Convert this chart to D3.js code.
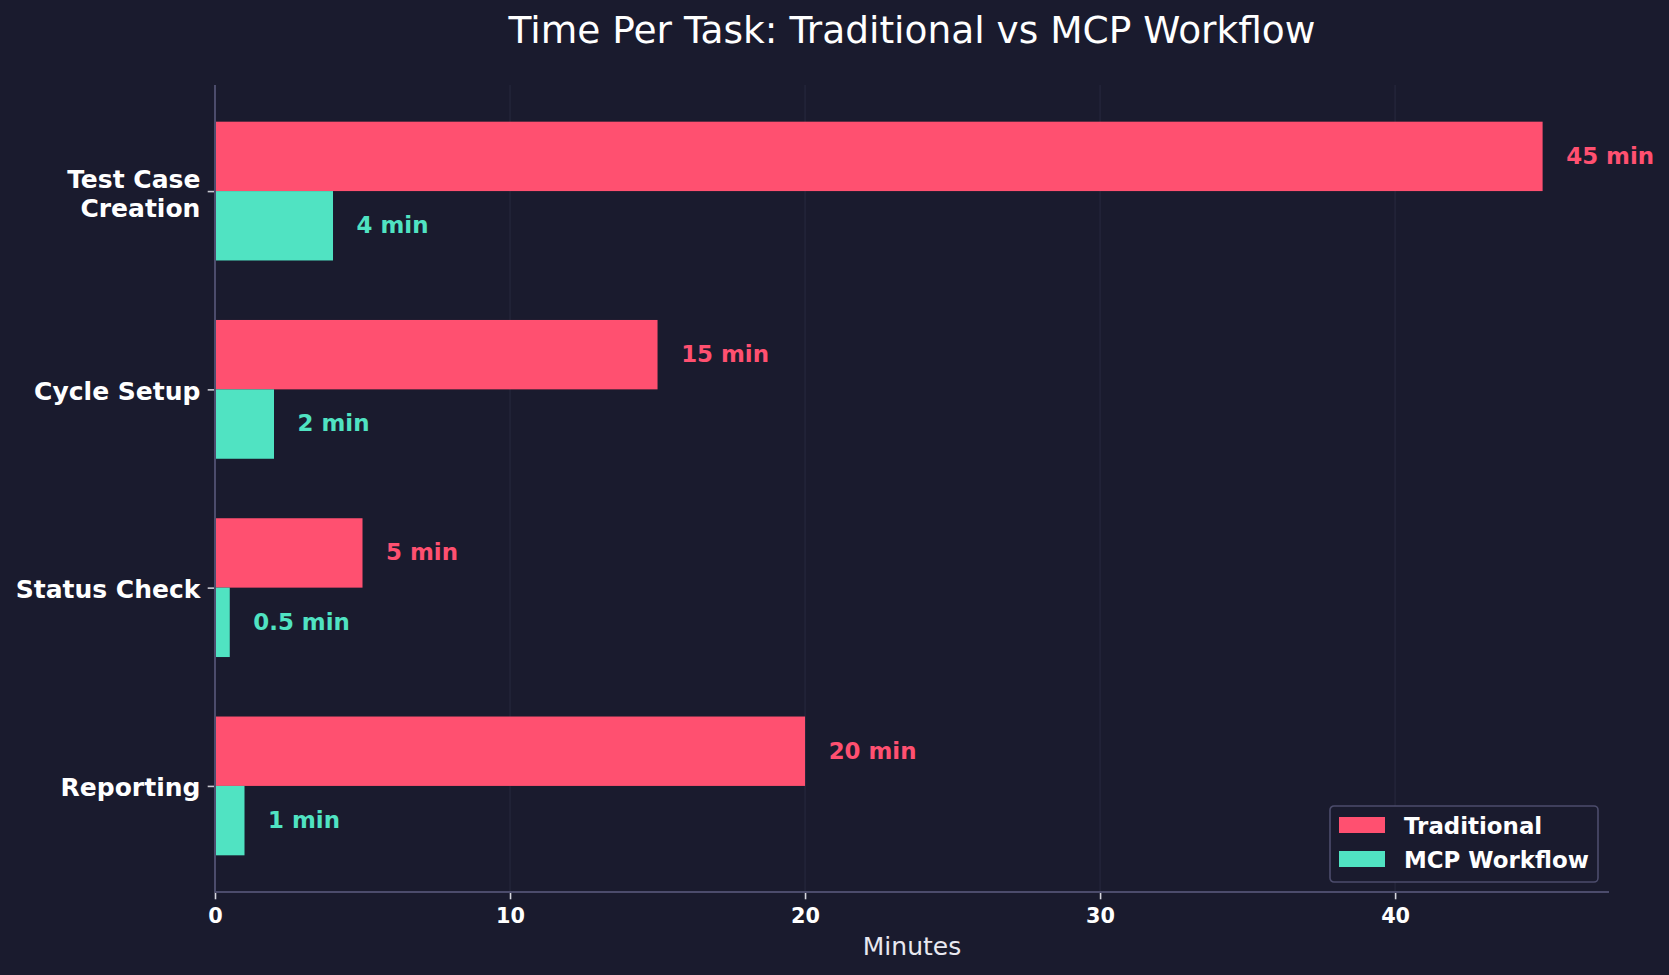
<!DOCTYPE html>
<html>
<head>
<meta charset="utf-8">
<script src="https://cdn.jsdelivr.net/npm/d3@7"></script>
<style>
  html, body { margin: 0; padding: 0; background: #1a1b2e; }
  svg { display: block; font-family: "DejaVu Sans", sans-serif; }
</style>
</head>
<body>
<svg id="chart"></svg>
<script>
// chart values
const tasks = ["Test Case\nCreation", "Cycle Setup", "Status Check", "Reporting"];
const traditional = [45, 15, 5, 20];
const mcpWorkflow = [4, 2, 0.5, 1];
const seriesNames = ["Traditional", "MCP Workflow"];
const xTicks = [0, 10, 20, 30, 40];

const width = 1669;
const height = 975;
const margin = { top: 85, right: 60, bottom: 83, left: 215 };
const barH = 0.35;

const colors = { Traditional: "#ff5070", "MCP Workflow": "#50e3c2" };
const bg = "#1a1b2e";
const spine = "#4c4c6c";

const svg = d3.select("#chart")
    .attr("width", width)
    .attr("height", height)
    .attr("viewBox", [0, 0, width, height]);

svg.append("rect")
    .attr("width", width)
    .attr("height", height)
    .attr("fill", bg);

const xMax = 45 * 1.05;
const x = d3.scaleLinear()
    .domain([0, xMax])
    .range([margin.left, width - margin.right]);

const yPad = (tasks.length - 1 + 2 * barH) * 0.05;
const y = d3.scaleLinear()
    .domain([-barH - yPad, tasks.length - 1 + barH + yPad])
    .range([margin.top, height - margin.bottom]);

// grid
svg.append("g")
    .selectAll("line")
    .data(xTicks)
    .join("line")
        .attr("x1", d => x(d))
        .attr("x2", d => x(d))
        .attr("y1", margin.top)
        .attr("y2", height - margin.bottom)
        .attr("stroke", "#26273c")
        .attr("stroke-width", 1.2);

const rows = tasks.map((t, i) => ({ task: t, i, trad: traditional[i], mcp: mcpWorkflow[i] }));

// bars
const bars = svg.append("g");
bars.selectAll(".trad")
    .data(rows)
    .join("rect")
        .attr("class", "trad")
        .attr("x", x(0))
        .attr("y", d => y(d.i - barH))
        .attr("width", d => x(d.trad) - x(0))
        .attr("height", y(barH) - y(0))
        .attr("fill", colors.Traditional);

bars.selectAll(".mcp")
    .data(rows)
    .join("rect")
        .attr("class", "mcp")
        .attr("x", x(0))
        .attr("y", d => y(d.i))
        .attr("width", d => x(d.mcp) - x(0))
        .attr("height", y(barH) - y(0))
        .attr("fill", colors["MCP Workflow"]);

// value labels
const labels = svg.append("g")
    .attr("font-size", 22.9)
    .attr("font-weight", "bold");

labels.selectAll(".tl")
    .data(rows)
    .join("text")
        .attr("x", d => x(d.trad + 0.8))
        .attr("y", d => y(d.i - barH / 2))
        .attr("dy", "0.32em")
        .attr("fill", colors.Traditional)
        .text(d => `${d.trad} min`);

labels.selectAll(".ml")
    .data(rows)
    .join("text")
        .attr("x", d => x(d.mcp + 0.8))
        .attr("y", d => y(d.i + barH / 2))
        .attr("dy", "0.32em")
        .attr("fill", colors["MCP Workflow"])
        .text(d => `${d.mcp} min`);

// x axis
const xAxis = svg.append("g")
    .attr("transform", `translate(0,${height - margin.bottom})`)
    .call(d3.axisBottom(x).tickValues(xTicks).tickSize(7.3).tickPadding(9).tickFormat(d3.format("d")));

xAxis.select(".domain").remove();
xAxis.selectAll(".tick line").attr("stroke", "#d8d8e0").attr("stroke-width", 1.6);
xAxis.selectAll(".tick text")
    .attr("fill", "#ffffff")
    .attr("font-size", 20.8)
    .attr("font-weight", "bold")
    .attr("font-family", "DejaVu Sans");

// y axis
const yAxis = svg.append("g")
    .attr("transform", `translate(${margin.left},0)`)
    .call(d3.axisLeft(y).tickValues(d3.range(tasks.length)).tickSize(7.3).tickPadding(7.3).tickFormat(() => ""));

yAxis.select(".domain").remove();
yAxis.selectAll(".tick line").attr("stroke", "#c8c8d0").attr("stroke-width", 1.6);
yAxis.selectAll(".tick text").each(function(i) {
    const lines = tasks[i].split("\n");
    const t = d3.select(this)
        .attr("fill", "#ffffff")
        .attr("font-size", 25)
        .attr("font-weight", "bold")
        .attr("font-family", "DejaVu Sans")
        .attr("dy", null)
        .attr("y", 0);
    const lh = 28.4;
    const first = (lines.length > 1 ? 11 : 10) - (lines.length - 1) * lh / 2;
    lines.forEach((ln, k) => {
        t.append("tspan")
            .attr("x", -14.6)
            .attr("y", first + k * lh)
            .text(ln);
    });
});

// spines
svg.append("line")
    .attr("x1", margin.left).attr("x2", margin.left)
    .attr("y1", margin.top).attr("y2", height - margin.bottom)
    .attr("stroke", spine).attr("stroke-width", 2);
svg.append("line")
    .attr("x1", margin.left).attr("x2", width - margin.right)
    .attr("y1", height - margin.bottom).attr("y2", height - margin.bottom)
    .attr("stroke", spine).attr("stroke-width", 2);

// axis label
svg.append("text")
    .attr("x", (margin.left + width - margin.right) / 2)
    .attr("y", 955)
    .attr("text-anchor", "middle")
    .attr("fill", "#e8e8f0")
    .attr("font-size", 25)
    .text("Minutes");

// title
svg.append("text")
    .attr("x", (margin.left + width - margin.right) / 2)
    .attr("y", 43)
    .attr("text-anchor", "middle")
    .attr("fill", "#ffffff")
    .attr("font-size", 37.5)
    .text("Time Per Task: Traditional vs MCP Workflow");

// legend
const legend = svg.append("g")
    .attr("transform", "translate(1330,806)");

legend.append("rect")
    .attr("width", 268)
    .attr("height", 76)
    .attr("rx", 4)
    .attr("fill", bg)
    .attr("stroke", spine)
    .attr("stroke-width", 1.6);

const item = legend.selectAll(".item")
    .data(seriesNames)
    .join("g")
        .attr("transform", (_d, i) => `translate(9,${11 + i * 34})`);

item.append("rect")
    .attr("width", 46)
    .attr("height", 16)
    .attr("fill", d => colors[d]);

item.append("text")
    .attr("x", 65)
    .attr("y", 8)
    .attr("dy", "0.38em")
    .attr("fill", "#ffffff")
    .attr("font-size", 22.9)
    .attr("font-weight", "bold")
    .text(d => d);
</script>
</body>
</html>
